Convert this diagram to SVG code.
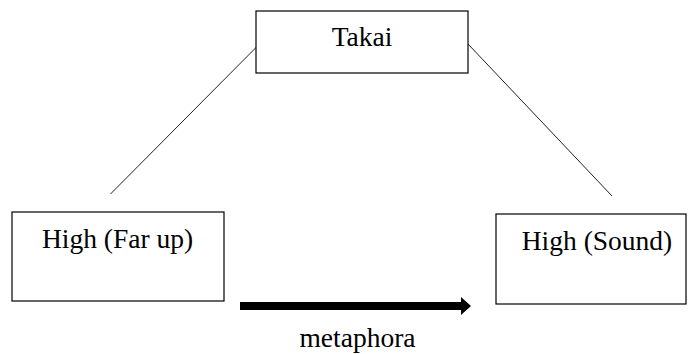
<svg xmlns="http://www.w3.org/2000/svg" width="688" height="354" viewBox="0 0 688 354">
<style>
.box{fill:#fff;stroke:#000;stroke-width:1.2}
.t{font-size:27.5px;fill:#000;text-anchor:middle}
.ln{stroke:#222;stroke-width:1;fill:none}
</style>
<rect width="688" height="354" fill="#fff"/>
<g id="connectors">
<line class="ln" x1="256.5" y1="47" x2="110.5" y2="194"/>
<line class="ln" x1="468" y1="44" x2="612" y2="196"/>
<path d="M240 302 H461 V297 L471 306 L461 315 V310 H240 Z" fill="#000"/>
</g>
<g id="takai">
<rect class="box" x="256" y="11" width="212" height="62"/>
<text class="t" font-family="Liberation Serif, DejaVu Serif, serif" x="362" y="46">Takai</text>
</g>
<g id="high-far-up">
<rect class="box" x="12" y="212" width="212" height="89"/>
<text class="t" font-family="Liberation Serif, DejaVu Serif, serif" x="117.5" y="248">High (Far up)</text>
</g>
<g id="high-sound">
<rect class="box" x="496" y="214" width="190" height="90"/>
<text class="t" font-family="Liberation Serif, DejaVu Serif, serif" x="597" y="250">High (Sound)</text>
</g>
<g id="label">
<text class="t" font-family="Liberation Serif, DejaVu Serif, serif" x="357.5" y="347">metaphora</text>
</g>
</svg>
